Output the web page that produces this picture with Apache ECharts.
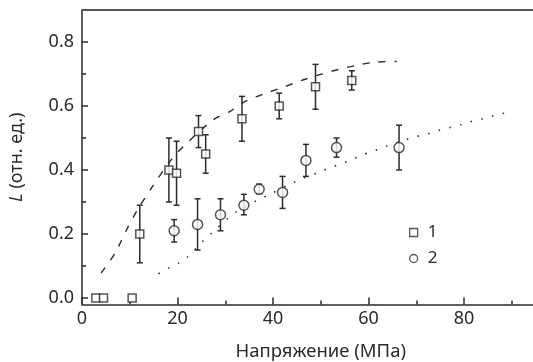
<!DOCTYPE html>
<html>
<head>
<meta charset="utf-8">
<script src="https://cdn.jsdelivr.net/npm/echarts@6/dist/echarts.min.js"></script>
<style>
  html, body { margin: 0; padding: 0; background: #fff; }
  #chart { width: 533px; height: 362px; }
</style>
</head>
<body>
<div id="chart"></div>
<script>
// Sample 1: stress (MPa), luminescence (rel. units), error limits
const stress1 = [2.9, 4.5, 10.5, 12.1, 18.2, 19.8, 24.4, 25.9, 33.5, 41.3, 48.9, 56.5];
const lum1    = [0.0, 0.0, 0.0, 0.20, 0.40, 0.39, 0.52, 0.45, 0.56, 0.60, 0.66, 0.68];
const low1    = [null, null, null, 0.11, 0.30, 0.29, 0.47, 0.39, 0.49, 0.56, 0.59, 0.65];
const high1   = [null, null, null, 0.29, 0.50, 0.49, 0.57, 0.51, 0.63, 0.64, 0.73, 0.71];

// Sample 2
const stress2 = [19.3, 24.2, 29.0, 33.9, 37.1, 42.0, 46.9, 53.3, 66.4];
const lum2    = [0.21, 0.23, 0.26, 0.29, 0.34, 0.33, 0.43, 0.47, 0.47];
const low2    = [0.175, 0.15, 0.21, 0.26, 0.326, 0.28, 0.38, 0.44, 0.40];
const high2   = [0.245, 0.31, 0.31, 0.324, 0.356, 0.38, 0.48, 0.50, 0.54];

// Guide curves
const curve1X = [4.0, 6.9, 9.4, 11.8, 14.6, 18.6, 21.6, 27.5, 31.2, 34.5, 38.5, 42.2, 46.0, 49.8, 53.7, 57.5, 61.4, 65.9];
const curve1Y = [0.078, 0.14, 0.215, 0.28, 0.345, 0.43, 0.479, 0.557, 0.585, 0.617, 0.640, 0.659, 0.680, 0.698, 0.714, 0.727, 0.737, 0.739];
const curve2X = [16.0, 18.2, 20.3, 22.0, 25.4, 27.2, 30.6, 32.7, 36.9, 39.2, 43.4, 45.7, 50.1, 52.3, 54.5, 56.7, 58.9, 61.2, 63.3, 67.9, 70.1, 72.4, 74.8, 77.1, 79.4, 81.7, 83.9, 86.3, 88.6];
const curve2Y = [0.076, 0.094, 0.109, 0.127, 0.179, 0.203, 0.250, 0.273, 0.307, 0.323, 0.355, 0.370, 0.396, 0.409, 0.420, 0.434, 0.448, 0.460, 0.472, 0.495, 0.505, 0.513, 0.524, 0.533, 0.542, 0.552, 0.560, 0.570, 0.578];

// Axis ticks
const xMajor = [0, 20, 40, 60, 80, 100];
const xLabels = [0, 20, 40, 60, 80];
const xMinor = [10, 30, 50, 70, 90];
const yMajor = [0, 0.2, 0.4, 0.6, 0.8];
const yMinor = [0.1, 0.3, 0.5, 0.7];

const seriesNames = ['1', '2'];

const INK = '#2b2b2b';
const FONT = '"Noto Sans", "DejaVu Sans", sans-serif';

const zip = (a, b) => a.map((v, i) => [v, b[i]]);
const errRows = (xs, lo, hi) => xs.map((x, i) => [x, lo[i], hi[i]]).filter(r => r[1] !== null);

function errorBar(params, api) {
  const x = api.value(0);
  const p1 = api.coord([x, api.value(1)]);
  const p2 = api.coord([x, api.value(2)]);
  const half = 3;
  const style = { stroke: INK, lineWidth: 1.5 };
  return {
    type: 'group',
    children: [
      { type: 'line', shape: { x1: p1[0], y1: p1[1], x2: p2[0], y2: p2[1] }, style },
      { type: 'line', shape: { x1: p1[0] - half, y1: p1[1], x2: p1[0] + half, y2: p1[1] }, style },
      { type: 'line', shape: { x1: p2[0] - half, y1: p2[1], x2: p2[0] + half, y2: p2[1] }, style }
    ]
  };
}

const chart = echarts.init(document.getElementById('chart'), null, { renderer: 'canvas' });

const tickAxisBase = {
  type: 'value',
  splitLine: { show: false },
};

chart.setOption({
  animation: false,
  backgroundColor: '#fff',
  grid: { left: 82, top: 10, width: 477.5, height: 294.4, containLabel: false, outerBoundsMode: 'none' },
  legend: {
    orient: 'vertical',
    left: 404,
    top: 219,
    itemWidth: 8,
    itemHeight: 8,
    itemGap: 9,
    textStyle: { fontFamily: FONT, fontSize: 17, color: INK, padding: [0, 0, 0, 5] },
    data: [
      { name: seriesNames[0], icon: 'rect', itemStyle: { color: '#fff', borderColor: INK, borderWidth: 1.3 } },
      { name: seriesNames[1], icon: 'circle', itemStyle: { color: '#fff', borderColor: INK, borderWidth: 1.3 } }
    ]
  },
  xAxis: [
    {
      ...tickAxisBase,
      min: 0, max: 100,
      position: 'bottom',
      name: 'Напряжение (МПа)',
      nameLocation: 'middle',
      nameGap: 38,
      nameTextStyle: { fontFamily: FONT, fontSize: 18.5, color: INK },
      axisLine: { show: true, onZero: false, lineStyle: { color: INK, width: 1.5 } },
      axisTick: { show: true, inside: true, length: 7, customValues: xMajor, lineStyle: { color: INK, width: 1.5 } },
      axisLabel: { customValues: xLabels, fontFamily: FONT, fontSize: 18, color: INK, margin: 5 }
    },
    {
      ...tickAxisBase,
      min: 0, max: 100,
      position: 'bottom',
      axisLine: { show: false, onZero: false },
      axisTick: { show: true, inside: true, length: 4, customValues: xMinor, lineStyle: { color: INK, width: 1.5 } },
      axisLabel: { show: false }
    },
    {
      ...tickAxisBase,
      min: 0, max: 100,
      position: 'top',
      axisLine: { show: true, onZero: false, lineStyle: { color: '#555', width: 2 } },
      axisTick: { show: false },
      axisLabel: { show: false }
    }
  ],
  yAxis: [
    {
      ...tickAxisBase,
      min: -0.02, max: 0.9,
      position: 'left',
      name: '{i|L} (отн. ед.)',
      nameLocation: 'middle',
      nameRotate: 90,
      nameGap: 56,
      nameTextStyle: {
        fontFamily: FONT, fontSize: 18, color: INK,
        rich: { i: { fontFamily: FONT, fontSize: 18, fontStyle: 'italic', color: INK } }
      },
      axisLine: { show: true, onZero: false, lineStyle: { color: INK, width: 1.5 } },
      axisTick: { show: true, inside: true, length: 6, customValues: yMajor, lineStyle: { color: INK, width: 1.5 } },
      axisLabel: {
        customValues: yMajor, fontFamily: FONT, fontSize: 18, color: INK, margin: 8,
        formatter: v => v.toFixed(1)
      }
    },
    {
      ...tickAxisBase,
      min: -0.02, max: 0.9,
      position: 'left',
      axisLine: { show: false, onZero: false },
      axisTick: { show: true, inside: true, length: 4, customValues: yMinor, lineStyle: { color: INK, width: 1.5 } },
      axisLabel: { show: false }
    }
  ],
  series: [
    {
      type: 'line',
      data: zip(curve1X, curve1Y),
      smooth: 0.3,
      showSymbol: false,
      silent: true,
      lineStyle: { color: INK, width: 1.4, type: [7, 9] },
      z: 1
    },
    {
      type: 'line',
      data: zip(curve2X, curve2Y),
      smooth: 0.3,
      showSymbol: false,
      silent: true,
      lineStyle: { color: INK, width: 1.6, type: [1.5, 9.5] },
      z: 1
    },
    {
      type: 'custom',
      renderItem: errorBar,
      data: errRows(stress1, low1, high1),
      z: 2
    },
    {
      type: 'custom',
      renderItem: errorBar,
      data: errRows(stress2, low2, high2),
      z: 2
    },
    {
      name: seriesNames[0],
      type: 'scatter',
      data: zip(stress1, lum1),
      symbol: 'rect',
      symbolSize: 8,
      itemStyle: { color: '#fff', borderColor: INK, borderWidth: 1.5 },
      z: 3
    },
    {
      name: seriesNames[1],
      type: 'scatter',
      data: zip(stress2, lum2),
      symbol: 'circle',
      symbolSize: 10,
      itemStyle: { color: '#fff', borderColor: INK, borderWidth: 1.5 },
      z: 3
    }
  ]
});
</script>
</body>
</html>
